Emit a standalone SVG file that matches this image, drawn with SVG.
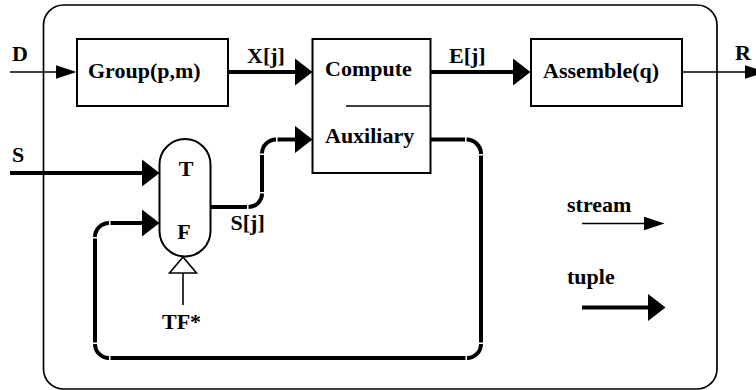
<svg xmlns="http://www.w3.org/2000/svg" width="756" height="390" viewBox="0 0 756 390">
  <style>
    .box { fill: #fff; stroke: #000; stroke-width: 2; }
    .frame { fill: none; stroke: #000; stroke-width: 1.7; }
    .thin { fill: none; stroke: #000; stroke-width: 1.6; }
    .thick { fill: none; stroke: #000; stroke-width: 4; stroke-linecap: butt; }
    text { font-family: "Liberation Serif", "Times New Roman", serif; font-weight: bold; font-size: 22px; fill: #000; }
    .mid { text-anchor: middle; }
  </style>
  <defs>
    <!-- stream arrowhead: small triangle -->
    <marker id="streamHead" markerUnits="userSpaceOnUse" viewBox="0 0 21 14" markerWidth="21" markerHeight="14" refX="0.5" refY="7" orient="auto">
      <path d="M0,0 L21,7 L0,14 Z" fill="#000"/>
    </marker>
    <!-- tuple arrowhead: large triangle -->
    <marker id="tupleHead" markerUnits="userSpaceOnUse" viewBox="0 0 18 28" markerWidth="18" markerHeight="28" refX="0.5" refY="14" orient="auto">
      <path d="M0,0 L18,14 L0,28 Z" fill="#000"/>
    </marker>
  </defs>

  <!-- enclosing frame -->
  <rect id="frame" class="frame" x="43.5" y="5" width="673.5" height="384" rx="20" ry="20"/>

  <!-- nodes -->
  <g id="group">
    <rect class="box" x="77" y="39" width="151" height="67"/>
    <text x="88" y="78">Group(p,m)</text>
  </g>
  <g id="compute">
    <rect class="box" x="312.5" y="39" width="118" height="134"/>
    <line class="thin" x1="346" y1="106" x2="430.5" y2="106" stroke-width="2"/>
    <text x="325" y="76">Compute</text>
    <text x="325" y="143">Auxiliary</text>
  </g>
  <g id="assemble">
    <rect class="box" x="531" y="39" width="151" height="67"/>
    <text x="543" y="78">Assemble(q)</text>
  </g>
  <g id="switch">
    <path class="box" d="M159.5,164.5 A25.5,25.5 0 0 1 210.5,164.5 V231 A25.5,25.5 0 0 1 159.5,231 Z"/>
    <text class="mid" x="186" y="176">T</text>
    <text class="mid" x="184" y="239">F</text>
  </g>
  <g id="control">
    <polygon points="183,257 169.5,273 196.5,273" fill="#fff" stroke="#000" stroke-width="1.6"/>
    <line class="thin" x1="183" y1="273" x2="183" y2="305"/>
    <text x="162" y="329">TF*</text>
  </g>

  <!-- connectors -->
  <g id="connectors">
    <line class="thin" x1="10" y1="72" x2="56" y2="72" marker-end="url(#streamHead)"/>
    <line class="thick" x1="228" y1="72" x2="295" y2="72" marker-end="url(#tupleHead)"/>
    <line class="thick" x1="430.5" y1="72" x2="513" y2="72" marker-end="url(#tupleHead)"/>
    <line class="thin" x1="682" y1="72" x2="745" y2="72" marker-end="url(#streamHead)"/>
    <line class="thick" x1="10" y1="173" x2="142" y2="173" marker-end="url(#tupleHead)"/>

    <!-- S[j]: switch output into Auxiliary -->
    <path class="thick" d="M211,207 H247"/>
    <path class="thick" d="M248.5,207 A13.5,13.5 0 0 0 262,193.5"/>
    <path class="thick" d="M262,192 V155"/>
    <path class="thick" d="M262,153.5 A14,14 0 0 1 276,139.5"/>
    <path class="thick" d="M277.5,139.5 H295" marker-end="url(#tupleHead)"/>

    <!-- feedback loop: Auxiliary back to the F input -->
    <path class="thick" d="M430.5,139.5 H465"/>
    <path class="thick" d="M466.5,139.5 A14.5,14.5 0 0 1 481,154"/>
    <path class="thick" d="M481,155.5 V342.5"/>
    <path class="thick" d="M481,344 A14,14 0 0 1 467,358"/>
    <path class="thick" d="M465.5,358 H110.5"/>
    <path class="thick" d="M109,358 A14,14 0 0 1 95,344"/>
    <path class="thick" d="M95,342.5 V238.5"/>
    <path class="thick" d="M95,237 A14,14 0 0 1 109,223"/>
    <path class="thick" d="M110.5,223 H142" marker-end="url(#tupleHead)"/>
  </g>

  <!-- edge labels -->
  <text x="12" y="61">D</text>
  <text x="12" y="162">S</text>
  <text x="735" y="60">R</text>
  <text x="247" y="63">X[j]</text>
  <text x="449" y="63">E[j]</text>
  <text x="230.5" y="230">S[j]</text>

  <!-- legend -->
  <g id="legend">
    <text x="567" y="212">stream</text>
    <line class="thin" x1="582" y1="223.5" x2="644" y2="223.5" marker-end="url(#streamHead)"/>
    <text x="567" y="284">tuple</text>
    <line class="thick" x1="582" y1="307.5" x2="648" y2="307.5" marker-end="url(#tupleHead)"/>
  </g>
</svg>
